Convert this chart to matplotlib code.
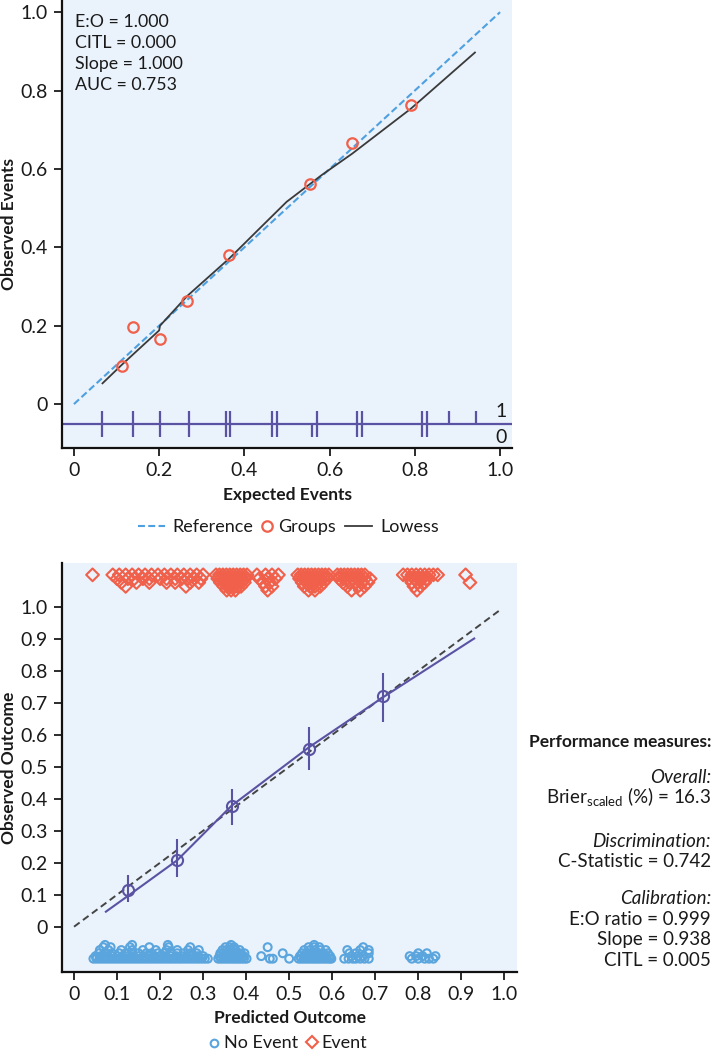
import matplotlib
matplotlib.use("Agg")
import matplotlib.pyplot as plt
from matplotlib.lines import Line2D
import numpy as np

plt.rcParams['font.family'] = ['Lato', 'DejaVu Sans']
plt.rcParams['mathtext.fontset'] = 'custom'
plt.rcParams['mathtext.rm'] = 'Lato'
plt.rcParams['mathtext.it'] = 'Lato:italic'
plt.rcParams['mathtext.bf'] = 'Lato:bold'
plt.rcParams['lines.scale_dashes'] = False

# ---------------- data: top panel ----------------
group_x = [0.113, 0.139, 0.202, 0.266, 0.365, 0.554, 0.653, 0.791]
group_y = [0.096, 0.196, 0.166, 0.264, 0.380, 0.562, 0.665, 0.762]
lowess_x = [0.067, 0.113, 0.200, 0.202, 0.266, 0.365, 0.430, 0.499, 0.581, 0.653, 0.791, 0.941]
lowess_y = [0.053, 0.101, 0.188, 0.200, 0.276, 0.372, 0.442, 0.516, 0.584, 0.639, 0.754, 0.897]
ref_x = [0.0, 1.0]
ref_y = [0.0, 1.0]
rug_event_x = [0.065, 0.139, 0.202, 0.270, 0.356, 0.366, 0.464, 0.477, 0.570,
               0.665, 0.677, 0.817, 0.828, 0.879, 0.943]
rug_nonevent_x = [0.065, 0.139, 0.202, 0.270, 0.356, 0.366, 0.464, 0.477, 0.559,
                  0.570, 0.665, 0.677, 0.817, 0.828]
stats_top = ["E:O = 1.000", "CITL = 0.000", "Slope = 1.000", "AUC = 0.753"]

# ---------------- data: bottom panel ----------------
cal_grp_x = [0.126, 0.240, 0.366, 0.545, 0.719]
cal_grp_y = [0.115, 0.208, 0.377, 0.557, 0.721]
cal_grp_lo = [0.078, 0.156, 0.318, 0.490, 0.641]
cal_grp_hi = [0.161, 0.273, 0.432, 0.623, 0.792]
cal_line_x = [0.074, 0.126, 0.240, 0.366, 0.545, 0.719, 0.930]
cal_line_y = [0.047, 0.097, 0.208, 0.378, 0.560, 0.718, 0.901]
diag_x = [0.0, 0.99]
diag_y = [0.0, 0.99]

# no-event points (plotted below 0), keyed by plotted height
noevent_rows = {
    -0.100: [0.045, 0.052, 0.059, 0.066, 0.073, 0.080, 0.087, 0.094, 0.101, 0.108, 0.115, 0.122,
             0.129, 0.136, 0.143, 0.150, 0.157, 0.164, 0.171, 0.178, 0.185, 0.192, 0.199, 0.206,
             0.213, 0.220, 0.227, 0.234, 0.241, 0.248, 0.255, 0.262, 0.269, 0.276, 0.283, 0.290,
             0.297, 0.304, 0.311, 0.335, 0.341, 0.347, 0.353, 0.359, 0.365, 0.371, 0.377, 0.383,
             0.389, 0.395, 0.401, 0.455, 0.462, 0.500, 0.522, 0.528, 0.534, 0.540, 0.546, 0.552,
             0.558, 0.564, 0.570, 0.576, 0.582, 0.588, 0.594, 0.598, 0.628, 0.638, 0.648, 0.655,
             0.665, 0.675, 0.685, 0.785, 0.800, 0.815, 0.825, 0.835],
    -0.092: [0.050, 0.062, 0.075, 0.090, 0.100, 0.112, 0.125, 0.138, 0.150, 0.162, 0.175, 0.188,
             0.200, 0.212, 0.225, 0.238, 0.250, 0.262, 0.275, 0.288, 0.300, 0.338, 0.346, 0.354,
             0.362, 0.370, 0.378, 0.386, 0.394, 0.435, 0.525, 0.535, 0.545, 0.555, 0.565, 0.575,
             0.585, 0.595, 0.645, 0.660, 0.672, 0.780, 0.795, 0.810, 0.840],
    -0.083: [0.058, 0.072, 0.088, 0.105, 0.120, 0.135, 0.150, 0.168, 0.180, 0.195, 0.210, 0.225,
             0.240, 0.255, 0.270, 0.285, 0.340, 0.348, 0.356, 0.364, 0.372, 0.380, 0.388, 0.396,
             0.485, 0.530, 0.540, 0.550, 0.560, 0.570, 0.580, 0.590, 0.640, 0.655, 0.685, 0.800,
             0.820],
    -0.073: [0.060, 0.080, 0.110, 0.135, 0.160, 0.190, 0.215, 0.240, 0.265, 0.290, 0.345, 0.355,
             0.365, 0.375, 0.385, 0.535, 0.548, 0.560, 0.572, 0.585, 0.635, 0.665, 0.685],
    -0.064: [0.068, 0.085, 0.130, 0.175, 0.220, 0.270, 0.352, 0.362, 0.372, 0.450, 0.545, 0.558,
             0.570, 0.672],
    -0.057: [0.072, 0.135, 0.218, 0.365, 0.558],
}
# event points (plotted above 1), keyed by plotted height
event_rows = {
    1.100: [0.043, 0.090, 0.105, 0.120, 0.135, 0.150, 0.165, 0.180, 0.195, 0.210, 0.225, 0.240,
            0.255, 0.270, 0.285, 0.300, 0.330, 0.338, 0.346, 0.354, 0.362, 0.370, 0.378, 0.386,
            0.394, 0.402, 0.425, 0.445, 0.460, 0.475, 0.520, 0.528, 0.536, 0.544, 0.552, 0.560,
            0.568, 0.576, 0.584, 0.592, 0.612, 0.620, 0.628, 0.636, 0.644, 0.652, 0.660, 0.668,
            0.676, 0.765, 0.775, 0.785, 0.795, 0.805, 0.815, 0.825, 0.835, 0.845, 0.910],
    1.088: [0.100, 0.125, 0.140, 0.160, 0.175, 0.200, 0.215, 0.235, 0.250, 0.265, 0.280, 0.295,
            0.334, 0.342, 0.350, 0.358, 0.366, 0.374, 0.382, 0.390, 0.398, 0.430, 0.450, 0.468,
            0.524, 0.532, 0.540, 0.548, 0.556, 0.564, 0.572, 0.580, 0.588, 0.616, 0.626, 0.636,
            0.646, 0.656, 0.666, 0.676, 0.688, 0.780, 0.790, 0.800, 0.810, 0.820],
    1.076: [0.110, 0.145, 0.175, 0.215, 0.235, 0.270, 0.290, 0.340, 0.348, 0.356, 0.364, 0.372,
            0.380, 0.388, 0.396, 0.440, 0.455, 0.530, 0.540, 0.550, 0.560, 0.570, 0.580, 0.625,
            0.640, 0.655, 0.670, 0.683, 0.785, 0.800, 0.815, 0.920],
    1.064: [0.120, 0.260, 0.348, 0.356, 0.364, 0.372, 0.380, 0.388, 0.445, 0.460, 0.535, 0.548,
            0.560, 0.572, 0.635, 0.660, 0.675, 0.790, 0.805],
    1.052: [0.355, 0.365, 0.375, 0.450, 0.545, 0.560, 0.645, 0.665, 0.797],
}

perf_title = "Performance measures:"
perf_lines = [
    ("Overall:", "it"),
    ("Brier$_{\\mathregular{scaled}}$ (%) = 16.3", "rm"),
    ("Discrimination:", "it"),
    ("C-Statistic = 0.742", "rm"),
    ("Calibration:", "it"),
    ("E:O ratio = 0.999", "rm"),
    ("Slope = 0.938", "rm"),
    ("CITL = 0.005", "rm"),
]

# ---------------- styles ----------------
BG = "#EAF2FB"
RED = "#F0604A"
BLUE = "#4EA0E0"
PTBLUE = "#5AA5DD"
PURPLE = "#5A52A2"
DARK = "#3A3A3A"
TXT = "#1A1A1A"
TICK_FS = 14
LABEL_FS = 12.5
LEG_FS = 13

W, H = 712, 1050
fig = plt.figure(figsize=(W / 100, H / 100), dpi=100)


def fy(py):
    return 1 - py / H


def fx(px):
    return px / W


def base_axes(rect):
    ax = fig.add_axes(rect)
    ax.set_facecolor(BG)
    for s in ("top", "right"):
        ax.spines[s].set_visible(False)
    for s in ("left", "bottom"):
        ax.spines[s].set_linewidth(1.6)
        ax.spines[s].set_color("#111111")
    ax.tick_params(axis="both", direction="out", length=6, width=1.3,
                   labelsize=TICK_FS, colors=TXT, pad=4)
    return ax


# ---------------- top panel ----------------
ax1 = base_axes([fx(62), fy(448), 450 / W, 448 / H])
ax1.set_xlim(-0.028, 1.028)
ax1.set_ylim(-0.112, 1.031)

ax1.plot(ref_x, ref_y, color=BLUE, lw=1.5, dashes=(5, 2.4), zorder=3)
ax1.plot(lowess_x, lowess_y, color=DARK, lw=1.3, zorder=4)
ax1.plot(group_x, group_y, linestyle="none", marker="o", ms=7.5, mfc="none", mec=RED,
         mew=1.6, zorder=5)

ax1.axhline(-0.051, color=PURPLE, lw=1.6, zorder=2)
ax1.vlines(rug_event_x, -0.051, -0.017, color=PURPLE, lw=1.6, zorder=2)
ax1.vlines(rug_nonevent_x, -0.084, -0.051, color=PURPLE, lw=1.6, zorder=2)
ax1.text(1.015, -0.018, "1", ha="right", va="center", fontsize=TICK_FS, color=TXT)
ax1.text(1.015, -0.084, "0", ha="right", va="center", fontsize=TICK_FS, color=TXT)

# stats lines: left edge at x=75 px, baselines at 26.7, 47.8, 68.9, 90 px
for i, line in enumerate(stats_top):
    ax1.text((75 - 62) / 450, 1 - (26.7 + 21.1 * i) / 448, line, transform=ax1.transAxes,
             ha="left", va="baseline", fontsize=12.8, color=TXT)

ticks1 = [0, 0.2, 0.4, 0.6, 0.8, 1.0]
ticklabels1 = ["0", "0.2", "0.4", "0.6", "0.8", "1.0"]
ax1.set_xticks(ticks1)
ax1.set_xticklabels(ticklabels1)
ax1.set_yticks(ticks1)
ax1.set_yticklabels(ticklabels1)
ax1.set_xlabel("Expected Events", fontsize=LABEL_FS, fontweight="bold", color=TXT)
ax1.set_ylabel("Observed Events", fontsize=LABEL_FS, fontweight="bold", color=TXT)
ax1.xaxis.set_label_coords(0.5, -(495 - 448) / 448)
ax1.xaxis.label.set_va("center")
ax1.yaxis.set_label_coords(-(62 - 9) / 450, 0.5)
ax1.yaxis.label.set_va("center")

# top legend (drawn in figure coordinates)
ly = fy(525.7)
fig.add_artist(Line2D([fx(138), fx(165)], [ly, ly], color=BLUE, lw=1.5, dashes=(5, 2.4),
                      transform=fig.transFigure))
fig.text(fx(172), fy(531.7), "Reference", ha="left", va="baseline", fontsize=LEG_FS, color=TXT)
fig.add_artist(Line2D([fx(267)], [ly], linestyle="none", marker="o", ms=7.5, mfc="none",
                      mec=RED, mew=1.6, transform=fig.transFigure))
fig.text(fx(278), fy(531.7), "Groups", ha="left", va="baseline", fontsize=LEG_FS, color=TXT)
fig.add_artist(Line2D([fx(345), fx(372)], [ly, ly], color=DARK, lw=1.3,
                      transform=fig.transFigure))
fig.text(fx(380), fy(531.7), "Lowess", ha="left", va="baseline", fontsize=LEG_FS, color=TXT)

# ---------------- bottom panel ----------------
ax2 = base_axes([fx(62), fy(972), 455 / W, 409 / H])
ax2.set_xlim(-0.028, 1.0295)
ax2.set_ylim(-0.1416, 1.137)

ne_x, ne_y = [], []
for yv, xs in noevent_rows.items():
    ne_x += xs
    ne_y += [yv] * len(xs)
ev_x, ev_y = [], []
for yv, xs in event_rows.items():
    ev_x += xs
    ev_y += [yv] * len(xs)

ax2.scatter(ne_x, ne_y, s=32, marker="o", facecolors="none", edgecolors=PTBLUE,
            linewidths=1.5, zorder=3)
ax2.scatter(ev_x, ev_y, s=42, marker="D", facecolors="none", edgecolors=RED,
            linewidths=1.5, zorder=3)

ax2.plot(diag_x, diag_y, color="#444444", lw=1.4, dashes=(5, 3), zorder=3)
ax2.plot(cal_line_x, cal_line_y, color=PURPLE, lw=1.5, zorder=4)
yerr = [np.array(cal_grp_y) - np.array(cal_grp_lo), np.array(cal_grp_hi) - np.array(cal_grp_y)]
ax2.errorbar(cal_grp_x, cal_grp_y, yerr=yerr, fmt="o", ms=8, mfc="none", mec=PURPLE,
             mew=1.5, ecolor=PURPLE, elinewidth=1.5, capsize=0, zorder=5)

ax2.set_xticks([i / 10 for i in range(11)])
ax2.set_xticklabels(["0"] + [f"{i / 10:.1f}" for i in range(1, 11)])
ax2.set_yticks([i / 10 for i in range(11)])
ax2.set_yticklabels(["0"] + [f"{i / 10:.1f}" for i in range(1, 11)])
ax2.set_xlabel("Predicted Outcome", fontsize=LABEL_FS, fontweight="bold", color=TXT)
ax2.set_ylabel("Observed Outcome", fontsize=LABEL_FS, fontweight="bold", color=TXT)
ax2.xaxis.set_label_coords(0.5, -(1018 - 972) / 409)
ax2.xaxis.label.set_va("center")
ax2.yaxis.set_label_coords(-(62 - 9) / 455, 0.5)
ax2.yaxis.label.set_va("center")

# bottom legend
fig.add_artist(Line2D([fx(214.3)], [fy(1043)], linestyle="none", marker="o", ms=5.5,
                      mfc="none", mec=PTBLUE, mew=1.5, transform=fig.transFigure))
fig.text(fx(224), fy(1048.3), "No Event", ha="left", va="baseline", fontsize=LEG_FS, color=TXT)
fig.add_artist(Line2D([fx(312.3)], [fy(1042)], linestyle="none", marker="D", ms=6.5,
                      mfc="none", mec=RED, mew=1.5, transform=fig.transFigure))
fig.text(fx(321.7), fy(1048.3), "Event", ha="left", va="baseline", fontsize=LEG_FS, color=TXT)

# ---------------- performance measures ----------------
xr = fx(711)
fig.text(xr, fy(747.3), perf_title, ha="right", va="baseline", fontsize=12.5,
         fontweight="bold", color=TXT)
perf_base = [783.3, 803.5, 846.7, 866.7, 904, 925, 945, 965.7]
for (txt, sty), yy in zip(perf_lines, perf_base):
    fig.text(xr, fy(yy), txt, ha="right", va="baseline", fontsize=13.5,
             fontstyle="italic" if sty == "it" else "normal", color=TXT)

fig.savefig("out.png", dpi=100)
